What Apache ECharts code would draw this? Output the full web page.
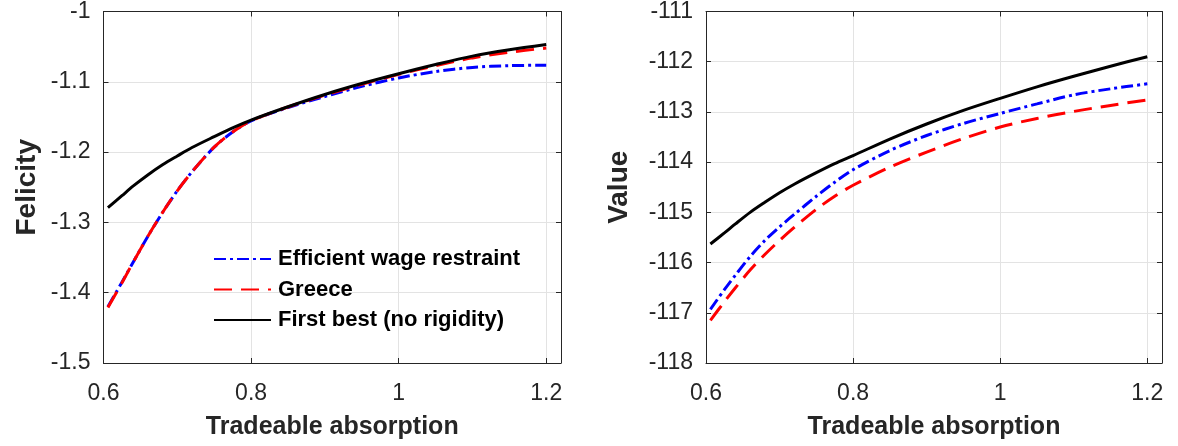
<!DOCTYPE html>
<html>
<head>
<meta charset="utf-8">
<script src="https://cdn.jsdelivr.net/npm/echarts@6/dist/echarts.min.js"></script>
<style>
html,body{margin:0;padding:0;background:#fff;}
#chart{width:1178px;height:446px;}
</style>
</head>
<body>
<div id="chart"></div>
<script>
// ---- data ----
const xVals = [0.606, 0.625, 0.64, 0.66, 0.68, 0.70, 0.72, 0.75, 0.775, 0.80, 0.85, 0.90, 0.95, 1.00, 1.05, 1.10, 1.15, 1.20];
const seriesNames = ['Efficient wage restraint', 'Greece', 'First best (no rigidity)'];

const felicityEfficient = [-1.420, -1.385, -1.357, -1.320, -1.286, -1.255, -1.228, -1.193, -1.1715, -1.1555, -1.1365, -1.121, -1.1065, -1.0945, -1.0855, -1.0795, -1.077, -1.0765];
const felicityGreece    = [-1.421, -1.386, -1.357, -1.320, -1.286, -1.255, -1.228, -1.193, -1.1715, -1.1555, -1.1358, -1.119, -1.1035, -1.0895, -1.077, -1.066, -1.058, -1.052];
const felicityFirstBest = [-1.279, -1.262, -1.2485, -1.2325, -1.218, -1.2055, -1.1935, -1.178, -1.1655, -1.1545, -1.1355, -1.118, -1.1025, -1.0885, -1.0755, -1.0635, -1.0545, -1.047];

const valueEfficient = [-116.93, -116.54, -116.25, -115.88, -115.56, -115.29, -115.04, -114.68, -114.40, -114.15, -113.77, -113.47, -113.23, -113.03, -112.84, -112.66, -112.54, -112.44];
const valueGreece    = [-117.15, -116.78, -116.50, -116.15, -115.84, -115.56, -115.30, -114.94, -114.68, -114.46, -114.10, -113.80, -113.53, -113.30, -113.13, -112.99, -112.87, -112.76];
const valueFirstBest = [-115.63, -115.41, -115.23, -115.00, -114.80, -114.61, -114.44, -114.21, -114.03, -113.87, -113.54, -113.24, -112.97, -112.73, -112.50, -112.29, -112.09, -111.90];

const xTickLabels = ['0.6', '0.8', '1', '1.2'];
const yTickLabelsLeft = ['-1.5', '-1.4', '-1.3', '-1.2', '-1.1', '-1'];
const yTickLabelsRight = ['-118', '-117', '-116', '-115', '-114', '-113', '-112', '-111'];

// ---- chart ----
const FONT = "'Liberation Sans', Arial, Helvetica, sans-serif";
const AX = '#262626';
const GRIDC = '#e3e3e3';

function pairs(ys){ return xVals.map((x,i)=>[x, ys[i]]); }

function labelFrom(list, step, base){
  return function(v){
    const k = Math.round((v - base)/step);
    if (Math.abs(base + k*step - v) > step*1e-3) return '';
    const s = list[k];
    return s === undefined ? '' : s;
  };
}

const styles = [
  {color:'#0000ff', type:[12,4,3,4]},
  {color:'#ff0000', type:[18,9]},
  {color:'#000000', type:'solid'}
];

function xAxes(gi){
  return [
    {gridIndex:gi, type:'value', min:0.6, max:1.22, interval:0.2, position:'bottom',
     axisLine:{show:true, lineStyle:{color:AX, width:1}},
     axisTick:{show:true, inside:true, length:5, lineStyle:{color:AX}},
     axisLabel:{show:true, color:AX, fontSize:23, fontFamily:FONT, margin:19,
                formatter:labelFrom(xTickLabels, 0.2, 0.6)},
     splitLine:{show:true, lineStyle:{color:GRIDC, width:1}},
     name:'Tradeable absorption', nameLocation:'middle', nameGap:52,
     nameTextStyle:{color:AX, fontSize:25, fontWeight:'bold', fontFamily:FONT}},
    {gridIndex:gi, type:'value', min:0.6, max:1.22, interval:0.2, position:'top',
     axisLine:{show:true, lineStyle:{color:AX, width:1}},
     axisTick:{show:true, inside:true, length:5, lineStyle:{color:AX}},
     axisLabel:{show:false}, splitLine:{show:false}}
  ];
}

function yAxes(gi, min, max, interval, labels, name, nameGap){
  return [
    {gridIndex:gi, type:'value', min:min, max:max, interval:interval, position:'left',
     axisLine:{show:true, lineStyle:{color:AX, width:1}},
     axisTick:{show:true, inside:true, length:5, lineStyle:{color:AX}},
     axisLabel:{show:true, color:AX, fontSize:23, fontFamily:FONT, margin:13,
                formatter:labelFrom(labels, interval, min)},
     splitLine:{show:true, lineStyle:{color:GRIDC, width:1}},
     name:name, nameLocation:'middle', nameGap:nameGap,
     nameTextStyle:{color:AX, fontSize:28, fontWeight:'bold', fontFamily:FONT}},
    {gridIndex:gi, type:'value', min:min, max:max, interval:interval, position:'right',
     axisLine:{show:true, lineStyle:{color:AX, width:1}},
     axisTick:{show:true, inside:true, length:5, lineStyle:{color:AX}},
     axisLabel:{show:false}, splitLine:{show:false}}
  ];
}

function mkSeries(name, data, idx, xi, yi){
  return {
    name:name, type:'line', xAxisIndex:xi, yAxisIndex:yi, data:pairs(data),
    symbol:'none', smooth:0.3, z: 2+idx,
    lineStyle:{color:styles[idx].color, width:3, type:styles[idx].type},
    itemStyle:{color:styles[idx].color}
  };
}

const option = {
  animation:false,
  backgroundColor:'#ffffff',
  grid:[
    {left:103.5, right:617, top:9, bottom:83},
    {left:706, right:16, top:9, bottom:83}
  ],
  xAxis: xAxes(0).concat(xAxes(1)),
  yAxis: yAxes(0, -1.5, -1, 0.1, yTickLabelsLeft, 'Felicity', 62)
          .concat(yAxes(1, -118, -111, 1, yTickLabelsRight, 'Value', 73)),
  legend:{
    orient:'vertical', left:213, top:248, padding:0,
    itemWidth:57, itemHeight:14, itemGap:8.5,
    data:seriesNames,
    itemStyle:{opacity:0},
    textStyle:{color:'#000', fontSize:22, fontWeight:'bold', fontFamily:FONT, padding:[0,0,0,2]}
  },
  series:[
    mkSeries(seriesNames[0], felicityEfficient, 0, 0, 0),
    mkSeries(seriesNames[1], felicityGreece, 1, 0, 0),
    mkSeries(seriesNames[2], felicityFirstBest, 2, 0, 0),
    mkSeries(seriesNames[0], valueEfficient, 0, 2, 2),
    mkSeries(seriesNames[1], valueGreece, 1, 2, 2),
    mkSeries(seriesNames[2], valueFirstBest, 2, 2, 2)
  ]
};

const chart = echarts.init(document.getElementById('chart'), null, {renderer:'canvas'});
chart.setOption(option);
</script>
</body>
</html>
